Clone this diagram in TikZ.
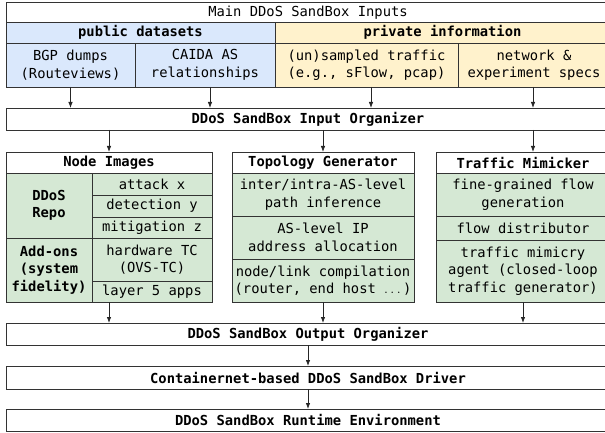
\documentclass[tikz,border=0pt]{standalone}
\usepackage{fontspec}
\usepackage{xcolor}
\usepackage{tikz}
\usetikzlibrary{arrows.meta,positioning}
\setmainfont{DejaVu Sans Mono}

\definecolor{pubblue}{HTML}{DAE8FC}
\definecolor{privyellow}{HTML}{FFF2CC}
\definecolor{modgreen}{HTML}{D5E8D4}

\begin{document}
\begin{tikzpicture}[
    x=1pt, y=-1pt,
    >={Latex[length=6pt,width=4.5pt]},
    every node/.style={font=\fontsize{13.8}{17.5}\selectfont, inner sep=0pt,
        outer sep=0pt, align=center, anchor=north west},
    box/.style={draw=black!80, line width=0.8pt, fill=white},
    head/.style={box, font=\fontsize{13.8}{17.5}\selectfont\bfseries},
    pub/.style={box, fill=pubblue},
    priv/.style={box, fill=privyellow},
    part/.style={box, fill=modgreen},
    flow/.style={->, draw=black!85, line width=0.8pt}
]
    \useasboundingbox (0,0) rectangle (605,433);

    % Inputs - public datasets on the left, private information on the right
    \node[box, minimum width=604, minimum height=20.5] (inputs) at (6,2) {Main DDoS SandBox Inputs};
    \node[head, fill=pubblue, minimum width=269, minimum height=20.5] (pubhead) at (6,22.5) {public datasets};
    \node[head, fill=privyellow, minimum width=335, minimum height=20.5] (privhead) at (275,22.5) {private information};
    \node[pub, minimum width=129, minimum height=44] (bgp) at (6,43) {BGP dumps\\(Routeviews)};
    \node[pub, minimum width=140, minimum height=44] (caida) at (135,43) {CAIDA AS\\relationships};
    \node[priv, minimum width=183, minimum height=44] (sampled) at (275,43) {(un)sampled traffic\\(e.g., sFlow, pcap)};
    \node[priv, minimum width=152, minimum height=44] (specs) at (458,43) {network \&\\experiment specs};

    \node[head, minimum width=604, minimum height=22] (inorg) at (6,108) {DDoS SandBox Input Organizer};

    % Node Images
    \node[head, minimum width=206, minimum height=21] (images) at (6,152) {Node Images};
    \node[head, fill=modgreen, minimum width=86, minimum height=65] (repo) at (6,173) {DDoS\\Repo};
    \node[part, minimum width=120, minimum height=22] (attack) at (92,173) {attack x};
    \node[part, minimum width=120, minimum height=22] (detect) at (92,195) {detection y};
    \node[part, minimum width=120, minimum height=21] (mitig) at (92,217) {mitigation z};
    \node[head, fill=modgreen, minimum width=86, minimum height=64] (addons) at (6,238) {Add-ons\\(system\\fidelity)};
    \node[part, minimum width=120, minimum height=43] (hwtc) at (92,238) {hardware TC\\(OVS-TC)};
    \node[part, minimum width=120, minimum height=21] (apps) at (92,281) {layer 5 apps};

    % Topology Generator
    \node[head, minimum width=182, minimum height=21] (topo) at (232,152) {Topology Generator};
    \node[part, minimum width=182, minimum height=43] (paths) at (232,173) {inter/intra-AS-level\\path inference};
    \node[part, minimum width=182, minimum height=43] (addr) at (232,216) {AS-level IP\\address allocation};
    \node[part, minimum width=182, minimum height=43] (compile) at (232,259) {node/link compilation\\(router, end host\ $\dots$\,)};

    % Traffic Mimicker
    \node[head, minimum width=174, minimum height=21] (mimic) at (436,152) {Traffic Mimicker};
    \node[part, minimum width=174, minimum height=43] (flowgen) at (436,173) {fine-grained flow\\generation};
    \node[part, minimum width=174, minimum height=24] (distrib) at (436,216) {flow distributor};
    \node[part, minimum width=174, minimum height=62] (agent) at (436,240) {traffic mimicry\\agent (closed-loop\\traffic generator)};

    % Output side
    \node[head, minimum width=604, minimum height=22] (outorg) at (6,323) {DDoS SandBox Output Organizer};
    \node[head, minimum width=604, minimum height=23] (driver) at (6,366) {Containernet-based DDoS SandBox Driver};
    \node[head, minimum width=604, minimum height=22] (runtime) at (6,409) {DDoS SandBox Runtime Environment};

    % Inputs into the input organizer
    \draw[flow] (bgp.south) -- (bgp.south |- inorg.north);
    \draw[flow] ([xshift=5pt]caida.south) -- ([xshift=5pt]caida.south |- inorg.north);
    \draw[flow] ([xshift=4.5pt]sampled.south) -- ([xshift=4.5pt]sampled.south |- inorg.north);
    \draw[flow] ([xshift=-1pt]specs.south) -- ([xshift=-1pt]specs.south |- inorg.north);

    % Input organizer to the three modules
    \draw[flow] (inorg.south -| images.north) -- (images.north);
    \draw[flow] (inorg.south -| topo.north) -- (topo.north);
    \draw[flow] ([xshift=10pt]mimic.north |- inorg.south) -- ([xshift=10pt]mimic.north);

    % Modules to the output organizer, then down the stack
    \draw[flow] (apps.south -| images.south) -- (images.south |- outorg.north);
    \draw[flow] (compile.south) -- (compile.south |- outorg.north);
    \draw[flow] (agent.south) -- (agent.south |- outorg.north);
    \draw[flow] (outorg.south) -- (driver.north);
    \draw[flow] (driver.south) -- (runtime.north);

\end{tikzpicture}
\end{document}
